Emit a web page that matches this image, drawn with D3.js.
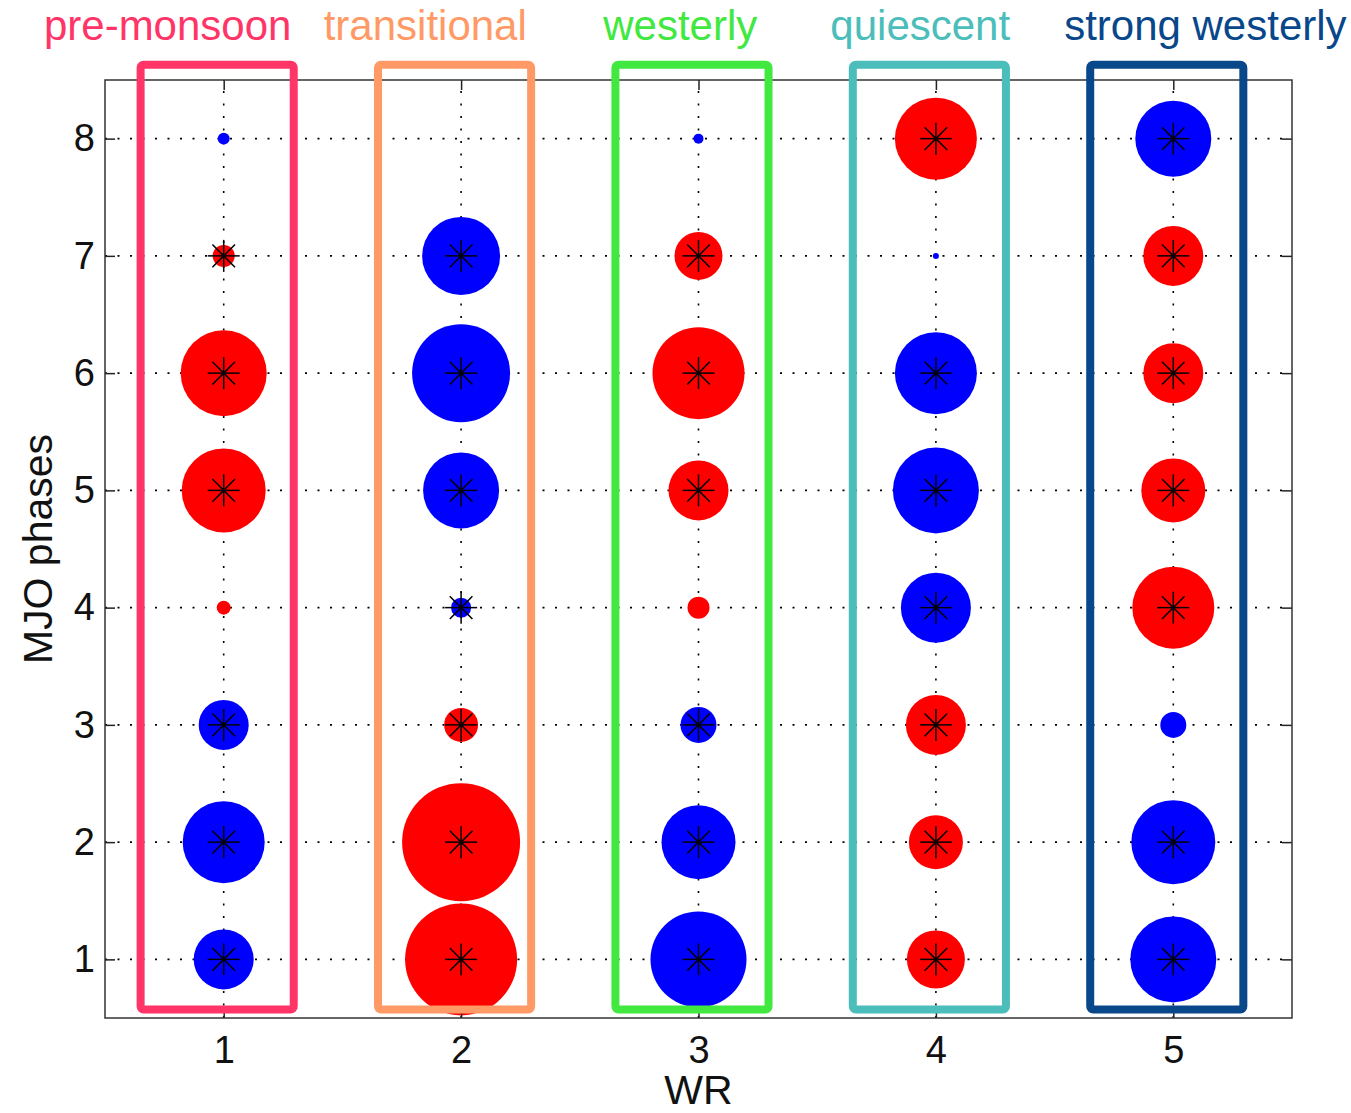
<!DOCTYPE html>
<html>
<head>
<meta charset="utf-8">
<script src="https://cdn.jsdelivr.net/npm/d3@7"></script>
<style>
  body { margin: 0; background: #fff; }
  text { font-family: "Liberation Sans", Arial, sans-serif; }
</style>
</head>
<body>
<div id="chart"></div>
<script>
const regimes = [1, 2, 3, 4, 5]
const regimeNames = ["pre-monsoon", "transitional", "westerly", "quiescent", "strong westerly"]
const regimeColors = ["#ff3568", "#ff9a66", "#40e840", "#4bbdba", "#08478a"]
const phases = [1, 2, 3, 4, 5, 6, 7, 8]

// anomaly by MJO phase 1..8, positive = red, negative = blue
const wr1 = [-30, -41, -25, 7, 42, 43, 11, -6]
const wr2 = [56, 59, 17, -10, -38, -49, -39, 0]
const wr3 = [-48, -37, -18, 11, 30, 46, 24, -5]
const wr4 = [29, 27, 30, -35, -43, -41, -3, 41]
const wr5 = [-43, -42, -13, 41, 32, 30, 30, -38]

// significant (asterisk) by MJO phase 1..8
const sig1 = [1, 1, 1, 0, 1, 1, 1, 0]
const sig2 = [1, 1, 1, 1, 1, 1, 1, 0]
const sig3 = [1, 1, 1, 0, 1, 1, 1, 0]
const sig4 = [1, 1, 1, 1, 1, 1, 0, 1]
const sig5 = [1, 1, 0, 1, 1, 1, 1, 1]

const values = [wr1, wr2, wr3, wr4, wr5]
const sigs = [sig1, sig2, sig3, sig4, sig5]

const W = 1351, H = 1113
const M = { TOP: 80, BOTTOM: 95, LEFT: 105, RIGHT: 59 }

const svg = d3.select("#chart").append("svg")
    .attr("width", W).attr("height", H)

const x = d3.scaleLinear().domain([0.5, 5.5]).range([M.LEFT, W - M.RIGHT])
const y = d3.scaleLinear().domain([0.5, 8.5]).range([H - M.BOTTOM, M.TOP])
const r = d3.scaleLinear().domain([0, 60]).range([0, 60])

const cells = []
regimes.forEach((wr, i) => {
    phases.forEach((ph, j) => {
        cells.push({ wr: wr, ph: ph, v: values[i][j], sig: sigs[i][j] })
    })
})

// grid
const grid = svg.append("g")
    .attr("stroke", "#000").attr("stroke-width", 1.6)
    .attr("stroke-dasharray", "2,10.5")
grid.selectAll(".gx").data(regimes).enter().append("line")
    .attr("x1", d => x(d)).attr("x2", d => x(d))
    .attr("y1", y.range()[0]).attr("y2", y.range()[1])
grid.selectAll(".gy").data(phases).enter().append("line")
    .attr("y1", d => y(d)).attr("y2", d => y(d))
    .attr("x1", x.range()[0]).attr("x2", x.range()[1])

// bubbles
svg.append("g").selectAll("circle")
    .data(cells.filter(d => d.v !== 0))
    .enter().append("circle")
    .attr("cx", d => x(d.wr)).attr("cy", d => y(d.ph))
    .attr("r", d => r(Math.abs(d.v)))
    .attr("fill", d => d.v > 0 ? "#ff0000" : "#0000ff")

// asterisks for significant cells
const star = d3.range(8).map(k => k * Math.PI / 4)
const stars = svg.append("g").attr("stroke", "#000").attr("stroke-width", 1.5)
    .selectAll("g").data(cells.filter(d => d.sig)).enter().append("g")
    .attr("transform", d => `translate(${x(d.wr)},${y(d.ph)})`)
stars.selectAll("line").data(star).enter().append("line")
    .attr("x1", 0).attr("y1", 0)
    .attr("x2", a => 16 * Math.cos(a)).attr("y2", a => 16 * Math.sin(a))

// axes
const fs = 38
svg.append("g")
    .attr("transform", `translate(0,${y.range()[0]})`)
    .call(d3.axisBottom(x).tickValues(regimes).tickFormat(d3.format("d"))
        .tickSizeInner(-10).tickSizeOuter(0).tickPadding(18))
svg.append("g")
    .attr("transform", `translate(${x.range()[0]},0)`)
    .call(d3.axisLeft(y).tickValues(phases).tickFormat(d3.format("d"))
        .tickSizeInner(-10).tickSizeOuter(0).tickPadding(10))
svg.append("g")
    .attr("transform", `translate(0,${y.range()[1]})`)
    .call(d3.axisTop(x).tickValues(regimes).tickSizeInner(-10).tickSizeOuter(0).tickFormat(""))
svg.append("g")
    .attr("transform", `translate(${x.range()[1]},0)`)
    .call(d3.axisRight(y).tickValues(phases).tickSizeInner(-10).tickSizeOuter(0).tickFormat(""))

svg.selectAll(".domain").remove()
svg.selectAll(".tick line").attr("stroke", "#222").attr("stroke-width", 1.5)
svg.selectAll(".tick text").attr("font-size", fs).attr("fill", "#111")
    .attr("font-family", "Liberation Sans, Arial, sans-serif")

svg.append("rect")
    .attr("x", x.range()[0]).attr("y", y.range()[1])
    .attr("width", x.range()[1] - x.range()[0])
    .attr("height", y.range()[0] - y.range()[1])
    .attr("fill", "none").attr("stroke", "#333").attr("stroke-width", 1.5)

svg.append("text")
    .attr("x", x(3)).attr("y", 1104)
    .attr("text-anchor", "middle").attr("font-size", 41).attr("fill", "#111")
    .text("WR")
svg.append("text")
    .attr("transform", `translate(52,${y(4.5)}) rotate(-90)`)
    .attr("text-anchor", "middle").attr("font-size", 41).attr("fill", "#111")
    .text("MJO phases")

// regime boxes and names
const boxLeft = -0.35, boxRight = 0.295
const labelX = [0.764, 1.849, 2.923, 3.934, 5.135]
svg.append("g").selectAll("rect").data(regimes).enter().append("rect")
    .attr("x", d => x(d + boxLeft)).attr("y", y(8.63))
    .attr("width", d => x(d + boxRight) - x(d + boxLeft))
    .attr("height", y(0.573) - y(8.63))
    .attr("rx", 3)
    .attr("fill", "none").attr("stroke-width", 8)
    .attr("stroke", (d, i) => regimeColors[i])

svg.append("g").selectAll("text").data(regimes).enter().append("text")
    .attr("x", (d, i) => x(labelX[i])).attr("y", 40)
    .attr("text-anchor", "middle").attr("font-size", 42)
    .attr("fill", (d, i) => regimeColors[i])
    .text((d, i) => regimeNames[i])
</script>
</body>
</html>
